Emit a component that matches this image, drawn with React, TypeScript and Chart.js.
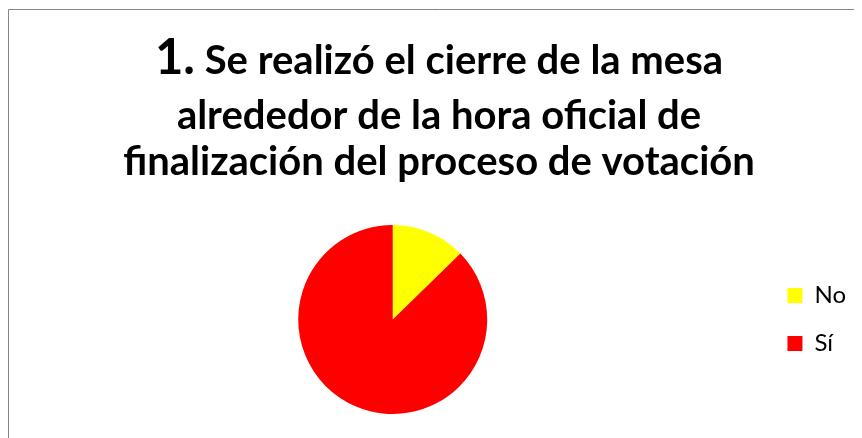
import React, { useEffect, useRef } from "react";
import { Chart, registerables } from "chart.js";

Chart.register(...registerables);

const categories: string[] = ["No", "Sí"];
const values: number[] = [12.7, 87.3];
const sliceColors: string[] = ["#FFFF00", "#FF0000"];
const titleNumber = "1.";
const titleLines: string[] = [
  " Se realizó el cierre de la mesa",
  "alrededor de la hora oficial de",
  "finalización del proceso de votación",
];

const FONT = "Lato, 'Open Sans', sans-serif";

const frameTitlePlugin = {
  id: "frameTitle",
  beforeDraw(chart: any) {
    const ctx = chart.ctx as CanvasRenderingContext2D;
    ctx.save();
    ctx.fillStyle = "#ffffff";
    ctx.fillRect(0, 0, chart.width, chart.height);
    ctx.strokeStyle = "#868686";
    ctx.lineWidth = 1;
    ctx.beginPath();
    ctx.moveTo(0.5, chart.height);
    ctx.lineTo(0.5, 1.5);
    ctx.lineTo(chart.width, 1.5);
    ctx.stroke();
    ctx.restore();
  },
  afterDraw(chart: any) {
    const ctx = chart.ctx as CanvasRenderingContext2D;
    const cx = chart.width / 2;
    const bigFont = `bold 49px ${FONT}`;
    const font = `bold 40px ${FONT}`;
    const baselines = [66, 121, 167];
    ctx.save();
    ctx.fillStyle = "#000000";
    ctx.textBaseline = "alphabetic";
    ctx.textAlign = "left";
    ctx.font = bigFont;
    const w1 = ctx.measureText(titleNumber).width;
    ctx.font = font;
    const w2 = ctx.measureText(titleLines[0]).width;
    const x = cx - (w1 + w2) / 2;
    ctx.font = bigFont;
    ctx.fillText(titleNumber, x, baselines[0]);
    ctx.font = font;
    ctx.fillText(titleLines[0], x + w1, baselines[0]);
    ctx.textAlign = "center";
    for (let i = 1; i < titleLines.length; i++) {
      ctx.fillText(titleLines[i], cx, baselines[i]);
    }
    ctx.restore();
  },
};

export default function App() {
  const ref = useRef<HTMLCanvasElement | null>(null);
  useEffect(() => {
    document.body.style.overflow = "hidden";
    const canvas = ref.current;
    if (!canvas) return;
    const chart = new Chart(canvas, {
      type: "pie",
      data: {
        labels: categories,
        datasets: [
          {
            data: values,
            backgroundColor: sliceColors,
            borderWidth: 0,
          },
        ],
      },
      options: {
        responsive: false,
        animation: false,
        layout: { padding: { top: 217, bottom: 24, left: 14, right: 14 } },
        plugins: {
          title: { display: false },
          tooltip: { enabled: false },
          legend: {
            display: true,
            position: "right",
            align: "center",
            labels: {
              boxWidth: 15,
              boxHeight: 15,
              padding: 24,
              color: "#000000",
              font: { family: FONT, size: 24 },
            },
          },
        },
      },
      plugins: [frameTitlePlugin],
    });
    return () => chart.destroy();
  }, []);
  return (
    <div style={{ width: 862, height: 430, overflow: "hidden" }}>
      <canvas ref={ref} width={862} height={430} style={{ display: "block" }} />
    </div>
  );
}
